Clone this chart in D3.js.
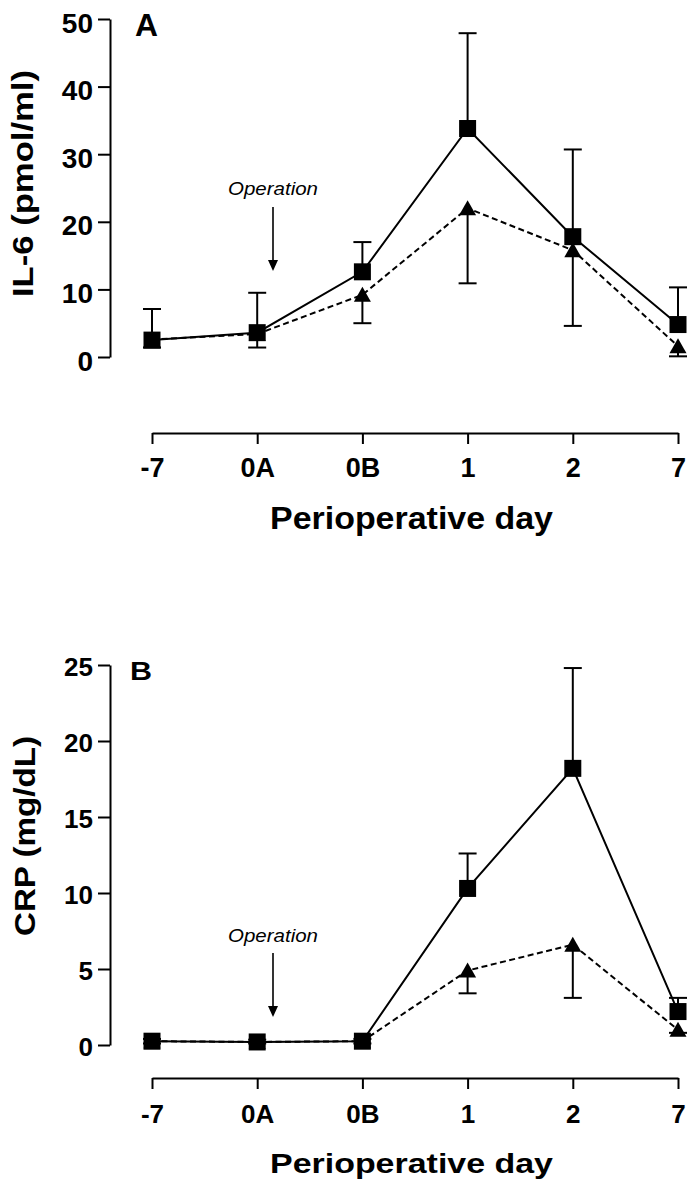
<!DOCTYPE html>
<html>
<head>
<meta charset="utf-8">
<script src="https://cdn.jsdelivr.net/npm/d3@7"></script>
<style>
  html, body { margin: 0; padding: 0; background: #fff; }
  svg { display: block; }
  text { font-family: "Liberation Sans", Arial, sans-serif; fill: #000; }
</style>
</head>
<body>
<svg id="chart" width="693" height="1191"></svg>
<script>
// ---- Data ----
const days = ["-7", "0A", "0B", "1", "2", "7"];

// Panel A: IL-6 (pmol/ml)
const il6Square      = [2.5, 3.6, 12.6, 33.8, 17.8, 4.8];
const il6SquareUpper = [7.1, 9.5, 17.0, 47.9, 30.7, 10.3];
const il6Triangle      = [2.6, 3.4, 9.2, 22.0, 15.8, 1.6];
const il6TriangleLower = [1.4, 1.4, 5.0, 10.9, 4.6, 0.1];
const il6Ticks = [0, 10, 20, 30, 40, 50];

// Panel B: CRP (mg/dL)
const crpSquare      = [0.25, 0.2, 0.25, 10.3, 18.2, 2.2];
const crpSquareUpper = [0.4, 0.35, 0.4, 12.6, 24.8, 3.1];
const crpTriangle      = [0.25, 0.2, 0.25, 4.9, 6.6, 1.0];
const crpTriangleLower = [0.1, 0.1, 0.1, 3.4, 3.1, 0.8];
const crpTicks = [0, 5, 10, 15, 20, 25];

const svg = d3.select("#chart");

function drawPanel(cfg) {
  const g = svg.append("g");
  const x = d3.scalePoint().domain(days).range([152, 678]);
  const y = d3.scaleLinear().domain([0, cfg.ymax]).range([cfg.y0, cfg.yTop]);

  // Y axis
  const ya = g.append("g").attr("transform", "translate(110,0)")
    .call(d3.axisLeft(y).tickValues(cfg.ticks).tickSize(12).tickSizeOuter(0).tickFormat(d3.format("d")));
  ya.select(".domain").attr("stroke-width", 2);
  ya.selectAll(".tick line").attr("stroke-width", 2);
  ya.selectAll(".tick text")
    .attr("x", -17).attr("dy", null).attr("y", cfg.yTickDy)
    .style("font-size", cfg.yTickSize + "px").style("font-weight", "bold")
    .attr("text-anchor", "end");

  // X axis
  const xa = g.append("g").attr("transform", `translate(0,${cfg.xAxisY})`)
    .call(d3.axisBottom(x).tickSize(11).tickSizeOuter(0));
  xa.select(".domain").attr("stroke-width", 2);
  xa.selectAll(".tick line").attr("stroke-width", 2);
  xa.selectAll(".tick text")
    .attr("dy", null).attr("y", cfg.xTickBase)
    .style("font-size", cfg.xTickSize + "px").style("font-weight", "bold");

  // X title
  g.append("text")
    .attr("x", 411.5).attr("y", cfg.xAxisY + cfg.titleOff)
    .attr("text-anchor", "middle")
    .attr("textLength", 283).attr("lengthAdjust", "spacingAndGlyphs")
    .style("font-size", cfg.titleSize + "px").style("font-weight", "bold")
    .text("Perioperative day");

  // Y title
  g.append("text")
    .attr("transform", `translate(${cfg.yLabelX},${cfg.yLabelCY}) rotate(-90)`)
    .attr("text-anchor", "middle")
    .attr("textLength", cfg.yLabelLen).attr("lengthAdjust", "spacingAndGlyphs")
    .style("font-size", cfg.yLabelSize + "px").style("font-weight", "bold")
    .text(cfg.yLabel);

  // Panel letter
  g.append("text")
    .attr("x", cfg.letterX).attr("y", cfg.letterY)
    .attr("textLength", cfg.letterLen).attr("lengthAdjust", "spacingAndGlyphs")
    .style("font-size", cfg.letterSize + "px").style("font-weight", "bold")
    .text(cfg.letter);

  // Operation annotation
  g.append("text")
    .attr("x", 273).attr("y", cfg.opTextY)
    .attr("text-anchor", "middle")
    .attr("textLength", 90).attr("lengthAdjust", "spacingAndGlyphs")
    .style("font-size", "19px").style("font-style", "italic")
    .text("Operation");
  g.append("line")
    .attr("x1", 273).attr("x2", 273)
    .attr("y1", cfg.arrowY1).attr("y2", cfg.arrowY2 - 8)
    .attr("stroke", "#000").attr("stroke-width", 1.6);
  g.append("path")
    .attr("d", `M268,${cfg.arrowY2 - 11} L278,${cfg.arrowY2 - 11} L273,${cfg.arrowY2} Z`)
    .attr("fill", "#000");

  const idx = d3.range(days.length);
  const line = (vals) => d3.line().x(i => x(days[i])).y(i => y(vals[i]))(idx);

  // Lines
  g.append("path").attr("d", line(cfg.tri)).attr("fill", "none")
    .attr("stroke", "#000").attr("stroke-width", 2).attr("stroke-dasharray", "6,3.5");
  g.append("path").attr("d", line(cfg.sq)).attr("fill", "none")
    .attr("stroke", "#000").attr("stroke-width", 2);

  // Error bars
  const eb = (vals, ends) => {
    idx.forEach(i => {
      const cx = x(days[i]);
      g.append("line").attr("x1", cx).attr("x2", cx)
        .attr("y1", y(vals[i])).attr("y2", y(ends[i]))
        .attr("stroke", "#000").attr("stroke-width", 2);
      g.append("line").attr("x1", cx - 9).attr("x2", cx + 9)
        .attr("y1", y(ends[i])).attr("y2", y(ends[i]))
        .attr("stroke", "#000").attr("stroke-width", 2);
    });
  };
  eb(cfg.sq, cfg.sqUp);
  eb(cfg.tri, cfg.triLow);

  // Markers
  idx.forEach(i => {
    const cx = x(days[i]), cy = y(cfg.tri[i]);
    g.append("path")
      .attr("d", `M${cx},${cy - 8} L${cx + 8.5},${cy + 7} L${cx - 8.5},${cy + 7} Z`)
      .attr("fill", "#000");
  });
  idx.forEach(i => {
    const cx = x(days[i]), cy = y(cfg.sq[i]);
    g.append("rect")
      .attr("x", cx - 8.5).attr("y", cy - 8.5)
      .attr("width", 17).attr("height", 17)
      .attr("fill", "#000");
  });
}

drawPanel({
  ymax: 50, y0: 357, yTop: 19, ticks: il6Ticks,
  yTickSize: 28, yTickDy: 13,
  xAxisY: 433, xTickBase: 44, xTickSize: 27,
  titleOff: 96, titleSize: 31,
  yLabel: "IL-6 (pmol/ml)", yLabelX: 33, yLabelCY: 183.5, yLabelLen: 227, yLabelSize: 29,
  letter: "A", letterX: 135, letterY: 36, letterLen: 23, letterSize: 32,
  opTextY: 195, arrowY1: 207, arrowY2: 271,
  sq: il6Square, sqUp: il6SquareUpper, tri: il6Triangle, triLow: il6TriangleLower
});

drawPanel({
  ymax: 25, y0: 1045, yTop: 665, ticks: crpTicks,
  yTickSize: 26, yTickDy: 10,
  xAxisY: 1078, xTickBase: 45, xTickSize: 26,
  titleOff: 95, titleSize: 28,
  yLabel: "CRP (mg/dL)", yLabelX: 35, yLabelCY: 836, yLabelLen: 200, yLabelSize: 30,
  letter: "B", letterX: 130, letterY: 680, letterLen: 22, letterSize: 26,
  opTextY: 942, arrowY1: 953, arrowY2: 1017,
  sq: crpSquare, sqUp: crpSquareUpper, tri: crpTriangle, triLow: crpTriangleLower
});
</script>
</body>
</html>
